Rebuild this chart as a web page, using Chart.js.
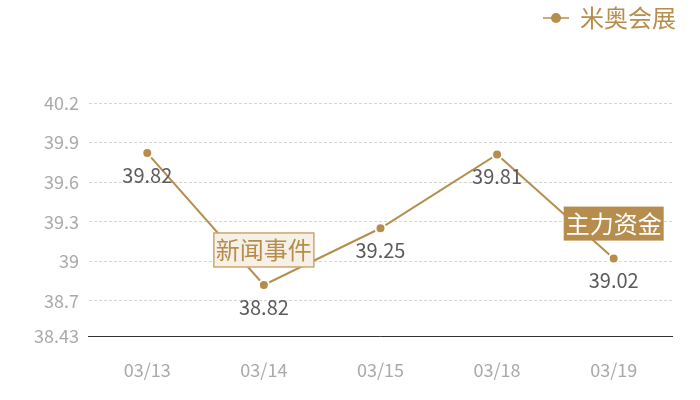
<!DOCTYPE html>
<html>
<head>
<meta charset="utf-8">
<script src="https://cdn.jsdelivr.net/npm/chart.js@4"></script>
<style>
  html, body { margin: 0; padding: 0; background: #fff; }
  #wrap { width: 700px; height: 400px; }
</style>
</head>
<body>
<div id="wrap"><canvas id="chart"></canvas></div>
<script>
const dates = ['03/13', '03/14', '03/15', '03/18', '03/19'];
const prices = [39.82, 38.82, 39.25, 39.81, 39.02];
const yTicks = [38.43, 38.7, 39, 39.3, 39.6, 39.9, 40.2];
const noteIndex = [1, 4];
const noteText = ['新闻事件', '主力资金'];

const gold = '#b68d4c';
const font = '"Noto Sans CJK SC", "Open Sans", sans-serif';

// legend icon: short line with a dot in the middle
const icon = document.createElement('canvas');
icon.width = 26; icon.height = 12;
(function () {
    const c = icon.getContext('2d');
    c.strokeStyle = gold; c.lineWidth = 1.5;
    c.beginPath(); c.moveTo(0, 6); c.lineTo(26, 6); c.stroke();
    c.fillStyle = gold;
    c.beginPath(); c.arc(13, 6, 5, 0, Math.PI * 2); c.fill();
})();

const legendTweak = {
    id: 'legendTweak',
    beforeInit(chart) {
        const fit = chart.legend.fit;
        chart.legend.fit = function () {
            fit.bind(chart.legend)();
            this.height += 63;
        };
    },
    afterLayout(chart) {
        chart.legend.left += 8;
        chart.legend.right += 8;
    }
};

const valueLabels = {
    id: 'valueLabels',
    afterDatasetsDraw(chart) {
        const ctx = chart.ctx;
        const meta = chart.getDatasetMeta(0);
        ctx.save();
        ctx.font = '20px ' + font;
        ctx.fillStyle = '#5a5a5a';
        ctx.textAlign = 'center';
        ctx.textBaseline = 'middle';
        meta.data.forEach((pt, i) => {
            ctx.fillText(String(prices[i]), pt.x, pt.y + 22);
        });

        // event notes above points
        ctx.font = '24px ' + font;
        noteIndex.forEach((idx, n) => {
            const pt = meta.data[idx];
            const w = 100, h = 34;
            const x = pt.x - w / 2, y = pt.y - 35 - h / 2;
            if (n === 0) {
                ctx.fillStyle = '#f6f0e7';
                ctx.fillRect(x, y, w, h);
                ctx.strokeStyle = '#c9a76f';
                ctx.lineWidth = 1.5;
                ctx.strokeRect(x, y, w, h);
                ctx.fillStyle = '#b68d4c';
            } else {
                ctx.fillStyle = '#b68d4c';
                ctx.fillRect(x, y, w, h);
                ctx.fillStyle = '#ffffff';
            }
            ctx.fillText(noteText[n], pt.x, pt.y - 35);
        });
        ctx.restore();
    }
};

new Chart(document.getElementById('chart'), {
    type: 'line',
    data: {
        labels: dates,
        datasets: [{
            label: '米奥会展',
            data: prices,
            borderColor: gold,
            backgroundColor: gold,
            borderWidth: 2,
            pointRadius: 5,
            pointBorderWidth: 2,
            pointBorderColor: '#ffffff',
            pointBackgroundColor: gold,
            tension: 0
        }]
    },
    options: {
        responsive: true,
        maintainAspectRatio: false,
        animation: false,
        layout: { padding: { left: 24, right: 28, top: 2, bottom: -4 } },
        plugins: {
            legend: {
                position: 'top',
                align: 'end',
                labels: {
                    usePointStyle: true,
                    pointStyle: icon,
                    color: gold,
                    font: { family: font, size: 24 },
                    padding: 4
                }
            },
            tooltip: { enabled: false }
        },
        scales: {
            x: {
                offset: true,
                grid: { display: false, drawTicks: false },
                border: { display: true, color: '#333333', width: 1 },
                ticks: { color: '#a9a9a9', font: { family: font, size: 18 }, padding: 23 }
            },
            y: {
                min: 38.43,
                max: 40.2,
                afterBuildTicks(scale) {
                    scale.ticks = yTicks.map(v => ({ value: v }));
                },
                grid: { color: '#d6d6d6', drawTicks: false, lineWidth: 1 },
                border: { display: false, dash: [3, 2] },
                ticks: {
                    color: '#a9a9a9',
                    font: { family: font, size: 18 },
                    padding: 10,
                    callback: v => String(v)
                }
            }
        }
    },
    plugins: [legendTweak, valueLabels]
});
</script>
</body>
</html>
